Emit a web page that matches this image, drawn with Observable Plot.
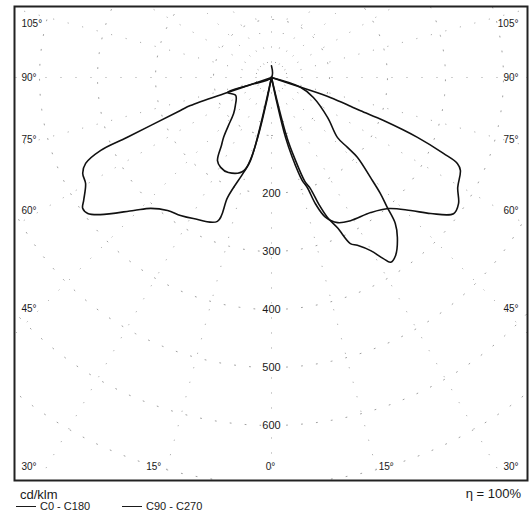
<!DOCTYPE html>
<html>
<head>
<meta charset="utf-8">
<script src="https://cdn.jsdelivr.net/npm/d3@7"></script>
<script src="https://cdn.jsdelivr.net/npm/@observablehq/plot@0.6"></script>
<style>
  html, body { margin: 0; padding: 0; background: #fff; }
  #wrap { position: relative; width: 532px; height: 516px; font-family: "Liberation Sans", Arial, sans-serif; color: #1a1a1a; }
  #chart svg { display: block; }
  .t { position: absolute; line-height: 1; white-space: pre; }
  .ln { position: absolute; height: 0; border-top: 1.5px solid #1a1a1a; }
</style>
</head>
<body>
<div id="wrap">
  <div id="chart"></div>
  <div class="t" style="left:20px; top:488px; font-size:13px;">cd/klm</div>
  <div class="t" style="right:11px; top:487px; font-size:13px;">η = 100%</div>
  <div class="ln" style="left:16px; top:506px; width:20px;"></div>
  <div class="t" style="left:40px; top:501px; font-size:11px;">C0 - C180</div>
  <div class="ln" style="left:122px; top:506px; width:20px;"></div>
  <div class="t" style="left:146px; top:501px; font-size:11px;">C90 - C270</div>
</div>
<script>
// Luminous intensity (cd/klm) vs. angle from nadir (degrees), in drawing order from nadir outward.
// C0 - C180 plane
const c0 = [[0,0],[13.5,48],[14.5,108],[16,145],[17.8,188],[19.3,203],[20.5,234],[21.8,260],[23.7,283],[25.4,317],[27.1,325],[29.8,344],[31.7,367],[32.8,379],[34.9,374],[38.2,351],[40.3,330],[41.7,300],[43.2,274],[44.7,243],[47.1,202],[47.4,178],[47.7,154],[54.5,119],[64.5,80],[71.5,52],[90,0]];
const c180 = [[0,0],[16.4,167],[24.4,180],[29.5,178],[33,171],[36.3,146],[38.7,132],[41.9,111],[46.5,90],[52.1,79],[63.4,69],[71.2,80],[71.2,40],[90,0]];
// C90 - C270 plane
const c90 = [[0,0],[12.2,46],[13.2,106],[14.6,142],[16.6,185],[18,199],[19.2,231],[21.1,258],[24.5,275],[28.9,282],[36.3,289],[41.8,303],[46.3,332],[49.5,361],[53.2,392],[56,389],[59.4,373],[63.8,363],[65.2,353],[66.2,324],[67.7,272],[69,207],[69.5,164],[70,146],[71.3,107],[71.5,52],[90,0]];
const c270 = [[0,0],[14.2,148],[16.4,171],[20.1,220],[20.6,265],[29,278],[33.4,285],[38,291],[42.7,307],[46,330],[51.3,378],[53.5,394],[55.3,396],[56.8,387],[60.3,369],[63.1,365],[65.2,353],[66.9,320],[67.5,269],[70.1,167],[70.9,148],[71.2,80],[71.2,40],[90,0],[180,20]];

const ringValues = [100, 200, 300, 400, 500, 600, 700];
const ringLabels = [200, 300, 400, 500, 600];
const spokeAngles = [0,15,30,45,60,75,90,105,120,135,150,165,180,195,210,225,240,255,270,285,300,315,330,345];
const sideAngles = [105, 90, 75, 60, 45, 30];
const bottomAngles = [-15, 0, 15];

const rad = Math.PI / 180;
// side: -1 = left half, +1 = right half
const toXY = (pts, side) => pts.map(([a, v]) => ({x: side * v * Math.sin(a * rad), y: -v * Math.cos(a * rad)}));

const curveA = [...toXY(c180, -1).reverse(), ...toXY(c0, 1)];
const curveB = [...toXY(c270, -1).reverse(), ...toXY(c90, 1)];

const rings = ringValues.flatMap(r => d3.range(0, 361, 2).map(a => ({r, x: r * Math.sin(a * rad), y: -r * Math.cos(a * rad)})));
const spokes = spokeAngles.map(a => ({x2: 900 * Math.sin(a * rad), y2: -900 * Math.cos(a * rad)}));

const sideY = a => Math.max(-670.7, Math.min(93, -398 / Math.tan(a * rad)));
const bottomY = -670.7;

const gridStyle = {stroke: "#a0a0a0", strokeWidth: 1, strokeDasharray: "1,14", clip: true};
const labelStyle = {fill: "#1a1a1a", fontSize: 10, fontFamily: "Liberation Sans, Arial, sans-serif"};

const chart = Plot.plot({
  width: 532,
  height: 482,
  marginLeft: 14,
  marginRight: 5,
  marginTop: 6,
  marginBottom: 2,
  x: {domain: [-443.1, 441.4], axis: null},
  y: {domain: [-694.8, 122.4], axis: null},
  marks: [
    Plot.line(rings, {x: "x", y: "y", z: "r", ...gridStyle}),
    Plot.link(spokes, {x1: 0, y1: 0, x2: "x2", y2: "y2", ...gridStyle}),
    Plot.text(ringLabels, {x: 0, y: d => -d, text: d => String(d), ...labelStyle, fontSize: 11, stroke: "white", strokeWidth: 3}),
    Plot.text(sideAngles, {frameAnchor: "left", y: sideY, text: a => a + "°", textAnchor: "start", dx: 7, ...labelStyle}),
    Plot.text(sideAngles, {frameAnchor: "right", y: sideY, text: a => a + "°", textAnchor: "end", dx: -9, ...labelStyle}),
    Plot.text(bottomAngles.filter(a => a < 0), {x: a => -bottomY * Math.tan(a * rad), y: bottomY, text: a => Math.abs(a) + "°", textAnchor: "end", dx: -6, ...labelStyle}),
    Plot.text(bottomAngles.filter(a => a === 0), {x: 0, y: bottomY, text: a => a + "°", textAnchor: "middle", dx: -1, ...labelStyle}),
    Plot.text(bottomAngles.filter(a => a > 0), {x: a => -bottomY * Math.tan(a * rad), y: bottomY, text: a => a + "°", textAnchor: "start", dx: 3, ...labelStyle}),
    Plot.line(curveB, {x: "x", y: "y", stroke: "#111", strokeWidth: 1.6, curve: "catmull-rom"}),
    Plot.line(curveA, {x: "x", y: "y", stroke: "#111", strokeWidth: 1.6, curve: "catmull-rom"}),
    Plot.frame({stroke: "#222", strokeWidth: 2})
  ]
});
document.getElementById("chart").appendChild(chart);
</script>
</body>
</html>
